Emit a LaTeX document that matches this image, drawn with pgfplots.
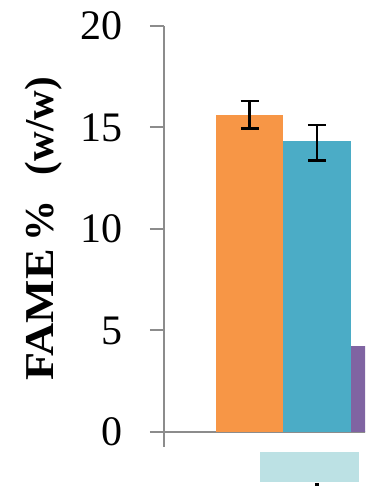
\documentclass[border=0pt]{standalone}
\usepackage{graphicx}
\usepackage{pgfplots}
\pgfplotsset{compat=1.18}
\usepackage{fontspec}
\setmainfont{Liberation Serif}
\definecolor{orangeE}{HTML}{F79646}
\definecolor{blueE}{HTML}{4BACC6}
\definecolor{purpleE}{HTML}{8064A2}
\definecolor{axisgray}{HTML}{8C8C8C}
\definecolor{lightcyan}{HTML}{BCE1E4}
\begin{document}
\begin{tikzpicture}
\useasboundingbox (0pt,0pt) rectangle (365pt,494pt);
\clip (0pt,0pt) rectangle (365pt,494pt);
\begin{axis}[
  at={(164pt,62pt)}, anchor=south west,
  scale only axis, width=300pt, height=406pt,
  xmin=-1.273, xmax=3.185, ymin=0, ymax=20,
  clip=false,
  axis x line=bottom, axis y line=left,
  axis line style={-, axisgray, line width=2pt},
  xtick=\empty,
  ytick={0,5,10,15,20},
  ytick pos=left,
  tick align=outside,
  major tick length=14pt,
  tick style={axisgray, line width=2pt},
  /pgf/number format/assume math mode=true,
  yticklabel style={font=\fontsize{42}{48}\selectfont, anchor=east, inner sep=0pt, xshift=-27pt},
  ylabel={\scalebox{1.12}[1]{FAME}\hspace{8pt}\%\hspace{25pt}(w/w)},
  ylabel style={font=\fontsize{41}{48}\selectfont\bfseries, at={(axis description cs:-0.4,0.5)}, anchor=center},
]
\addplot[ybar, bar width=67.3pt, bar shift=0pt, fill=orangeE, draw=none,
  error bars/.cd, y dir=both, y explicit,
  error bar style={black, line width=2.6pt},
  error mark options={rotate=90, mark size=9pt, black, line width=2.6pt}]
  coordinates {(0,15.62) += (0,0.68) -= (0,0.67)};
\addplot[ybar, bar width=67.3pt, bar shift=0pt, fill=blueE, draw=none,
  error bars/.cd, y dir=both, y explicit,
  error bar style={black, line width=2.6pt},
  error mark options={rotate=90, mark size=9pt, black, line width=2.6pt}]
  coordinates {(1,14.32) += (0,0.80) -= (0,0.96)};
\addplot[ybar, bar width=67.3pt, bar shift=0pt, fill=purpleE, draw=none]
  coordinates {(2,4.24)};
\end{axis}
\draw[axisgray, line width=2pt] (164pt,63pt) -- (164pt,47pt);
\fill[lightcyan] (260pt,12.3pt) rectangle (359pt,42.3pt);
\fill[black] (315pt,8pt) rectangle (319pt,11pt);
\end{tikzpicture}
\end{document}
